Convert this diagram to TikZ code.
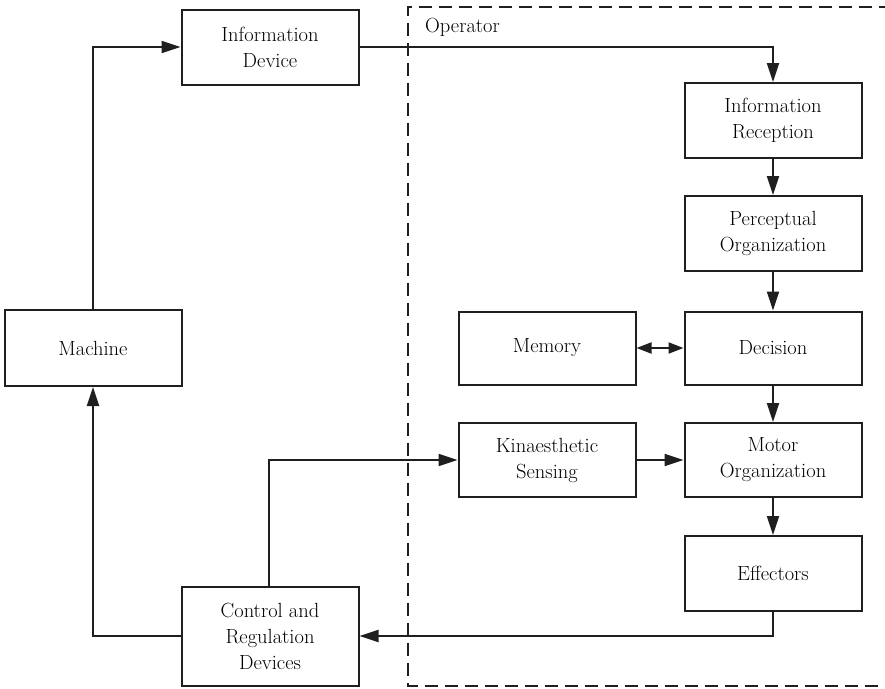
\documentclass[tikz,border=0pt]{standalone}
\usetikzlibrary{arrows.meta}
\begin{document}
\begin{tikzpicture}[x=1pt,y=-1pt,
  every node/.style={font=\fontsize{20.5}{26}\selectfont},
  blk/.style={draw=black!88, line width=2pt, minimum width=177pt, minimum height=75pt,
              align=center, inner sep=2pt},
  link/.style={draw=black!88, line width=2pt},
  arr/.style={link, -{Triangle[length=19pt,width=12pt]}},
  darr/.style={link, {Triangle[length=15pt,width=11pt]}-{Triangle[length=15pt,width=11pt]}}]
  \useasboundingbox (0,0) rectangle (885,688);

  % Operator boundary (open on the right)
  \draw[black!88, line width=2pt, dash pattern=on 13pt off 7pt]
    (892,7) -- (408,7) -- (408,686) -- (892,686);
  \node[anchor=base west, inner sep=0pt] (oplabel) at (425,32) {Operator};

  % blocks
  \node[blk] (infodev) at (270,47) {Information\\Device};
  \node[blk, minimum height=76pt] (machine) at (93,348) {Machine};
  \node[blk, minimum height=99pt] (control) at (270,636) {Control and\\Regulation\\Devices};
  \node[blk] (recep) at (773,120.5) {Information\\Reception};
  \node[blk] (percep) at (773,233.5) {Perceptual\\Organization};
  \node[blk, minimum height=73pt] (decision) at (773,348) {Decision};
  \node[blk, minimum height=73pt] (memory) at (547,348) {Memory};
  \node[blk, minimum height=74pt] (kinaes) at (547,460) {Kinaesthetic\\Sensing};
  \node[blk, minimum height=74pt] (motor) at (773,460) {Motor\\Organization};
  \node[blk] (effect) at (773,573.5) {Effectors};

  % connectors
  \draw[arr] (machine.north) |- (infodev.west);
  \draw[arr] (infodev.east) -| (recep.north);
  \draw[arr] (recep) -- (percep);
  \draw[arr] (percep) -- (decision);
  \draw[arr] (decision) -- (motor);
  \draw[arr] (motor) -- (effect);
  \draw[darr] (memory.east) -- (decision.west);
  \draw[arr] (kinaes) -- (motor);
  \draw[arr] ([xshift=-1pt]control.north) |- (kinaes.west);
  \draw[arr] (effect.south) |- (control.east);
  \draw[arr] (control.west) -| (machine.south);
\end{tikzpicture}
\end{document}
